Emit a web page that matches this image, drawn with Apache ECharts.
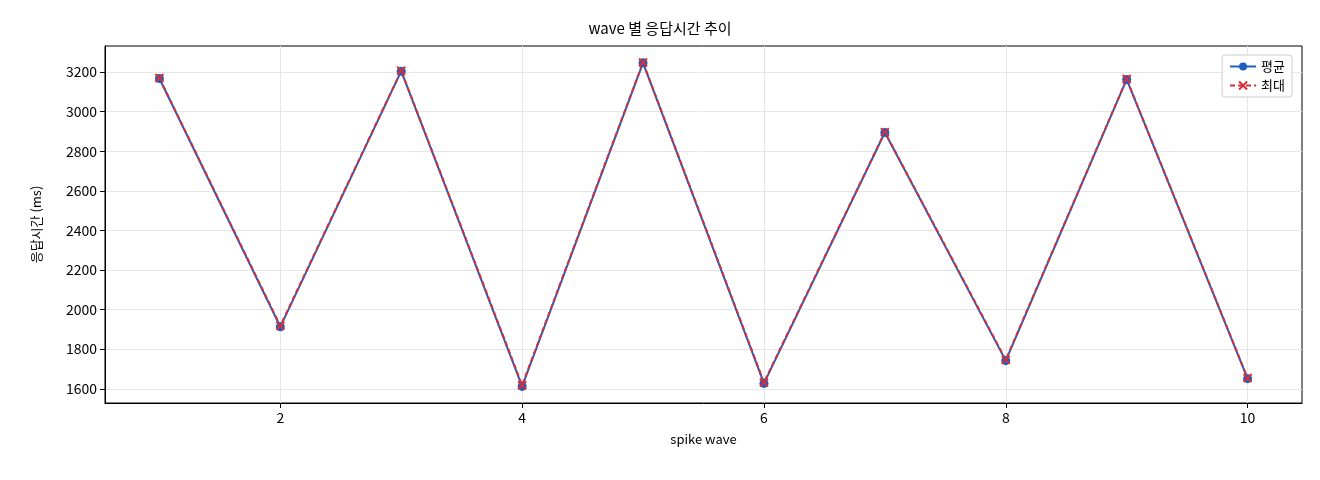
<!DOCTYPE html>
<html><head><meta charset="utf-8">
<script src="https://cdn.jsdelivr.net/npm/echarts@6/dist/echarts.min.js"></script>
<style>body{margin:0}#c{width:1320px;height:480px}</style></head>
<body><div id="c"></div>
<script>
const waves=[1,2,3,4,5,6,7,8,9,10];
const avgVals=[3168,1913,3205,1612,3247,1627,2895,1742,3163,1651];
const maxVals=[3170,1918,3207,1618,3249,1632,2897,1746,3165,1654];
const yTicks=[1600,1800,2000,2200,2400,2600,2800,3000,3200];
const F='"Noto Sans CJK KR", "DejaVu Sans", sans-serif';
const c=echarts.init(document.getElementById('c'));
c.setOption({
 animation:false,
 title:{text:'wave 별 응답시간 추이',left:'center',top:16,textStyle:{fontFamily:F,fontSize:15,fontWeight:'normal',color:'#000'}},
 grid:{left:105,right:18,top:46,bottom:77,show:true,borderColor:'#000',borderWidth:1},
 legend:{right:28,top:55,orient:'vertical',backgroundColor:'#fff',borderColor:'#ccc',borderWidth:1,borderRadius:3,padding:[5,7],itemGap:6,itemWidth:26,itemHeight:10,textStyle:{fontFamily:F,fontSize:13,color:'#000'},data:['평균','최대']},
 xAxis:{type:'value',min:0.55,max:10.45,name:'spike wave',nameLocation:'middle',nameGap:30,nameTextStyle:{fontFamily:F,fontSize:13,color:'#000'},
  axisLine:{onZero:false,lineStyle:{color:'#000'}},axisTick:{show:true,customValues:[2,4,6,8,10],lineStyle:{color:'#000'}},
  axisLabel:{fontFamily:F,fontSize:14,color:'#000',customValues:[2,4,6,8,10],formatter:v=>String(v)},
  splitLine:{show:true,lineStyle:{color:'#e6e6e6'}}},
 yAxis:{type:'value',min:1528,max:3332,name:'응답시간 (ms)',nameLocation:'middle',nameGap:62,nameTextStyle:{fontFamily:F,fontSize:13,color:'#000'},
  axisLine:{show:true,lineStyle:{color:'#000'}},axisTick:{show:true,customValues:yTicks,lineStyle:{color:'#000'}},
  axisLabel:{fontFamily:F,fontSize:14,color:'#000',customValues:yTicks,formatter:v=>String(v)},
  splitLine:{show:true,lineStyle:{color:'#e6e6e6'}}},
 series:[
  {name:'평균',type:'line',data:waves.map((w,i)=>[w,avgVals[i]]),symbol:'circle',symbolSize:9,lineStyle:{color:'#1f5fbf',width:2},itemStyle:{color:'#1f5fbf'}},
  {name:'최대',type:'line',data:waves.map((w,i)=>[w,maxVals[i]]),symbol:'path://M0,0L10,10M10,0L0,10',symbolSize:8,lineStyle:{color:'#d62f3a',width:2,type:[5,3]},itemStyle:{color:'none',borderColor:'#d62f3a',borderWidth:2}}
 ]
});
</script></body></html>
